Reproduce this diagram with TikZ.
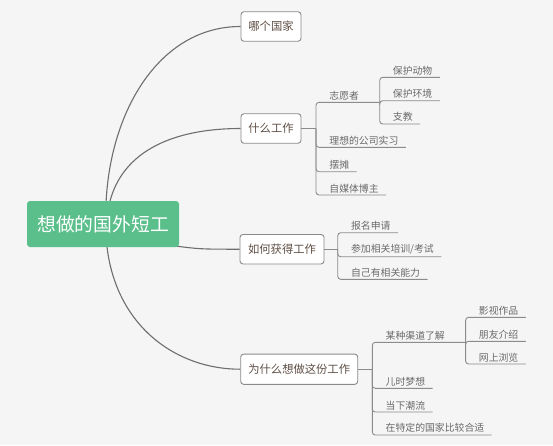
\documentclass[tikz,border=0pt]{standalone}
\usepackage{fontspec}
\setmainfont{Noto Sans CJK SC}
\usetikzlibrary{backgrounds}
\definecolor{bgc}{HTML}{F5F5F5}
\definecolor{rootc}{HTML}{5BBF8B}
\definecolor{mainc}{HTML}{5E4E44}
\definecolor{leafc}{HTML}{6A6A6A}
\definecolor{linec}{HTML}{6E6E6E}
\definecolor{subc}{HTML}{8C8C8C}
\definecolor{boxc}{HTML}{8A8A8A}
\tikzset{
  rootbox/.style={fill=rootc, rounded corners=3pt, text=white, font=\fontsize{18.8}{20}\selectfont, minimum width=152pt, minimum height=46pt, inner sep=0pt},
  mainbox/.style={draw=boxc, fill=white, line width=0.9pt, rounded corners=3pt, text=mainc, font=\fontsize{11.3}{13}\selectfont, minimum height=29.5pt, inner sep=0pt},
  leaf/.style={anchor=south west, inner xsep=0pt, inner ysep=2pt, text=leafc, font=\fontsize{9.85}{11}\selectfont},
  curve/.style={draw=linec, line width=1.1pt},
  sub/.style={draw=subc, line width=0.9pt, rounded corners=3pt}
}
\newcommand{\lf}[1]{\hspace*{13.2pt}#1\hspace*{7.3pt}}
\newcommand{\lp}[1]{\hspace*{13.2pt}#1\hspace*{20.6pt}}
\begin{document}
\begin{tikzpicture}[x=1pt,y=-1pt]
\useasboundingbox (0,0) rectangle (553,445);

\node[rootbox] (root) at (103,224) {想做的国外短工};

% main nodes
\node[mainbox, minimum width=60pt] (b1) at (271,26.5) {哪个国家};
\node[mainbox, minimum width=60pt] (b2) at (271,128.5) {什么工作};
\node[mainbox, minimum width=84pt] (b3) at (282,249.2) {如何获得工作};
\node[mainbox, minimum width=117pt, minimum height=30.3pt] (b4) at (299.2,369.2) {为什么想做这份工作};

\begin{scope}[on background layer]
\fill[bgc] (0,0) rectangle (553,445);
\draw[curve] ([xshift=3pt,yshift=-3pt]root.north) .. controls (110,110) and (160,26.5) .. (b1.west);
\draw[curve] ([xshift=6.3pt,yshift=-3pt]root.north) .. controls (122,150) and (175,128.5) .. (b2.west);
\draw[curve] ([xshift=-10pt,yshift=2pt]root.south east) .. controls (200,249.2) .. (b3.west);
\draw[curve] ([xshift=3.7pt,yshift=3pt]root.south) .. controls (115,325) and (175,369.2) .. (b4.west);
\end{scope}

% 什么工作 children
\node[leaf] (zy) at (316,102.3) {\lp{志愿者}};
\node[leaf] (sx) at (316,147.3) {\lf{理想的公司实习}};
\node[leaf] (bt) at (316,171.7) {\lf{摆摊}};
\node[leaf] (zm) at (316,195) {\lf{自媒体博主}};
\draw[sub] (b2.east) -- (316,128.5) coordinate (k2);
\foreach \c in {zy,sx,bt,zm} \draw[sub] (k2) |- (\c.south east);

% 志愿者 children
\node[leaf] (d1) at (379.5,77.3) {\lf{保护动物}};
\node[leaf] (d2) at (379.5,100.7) {\lf{保护环境}};
\node[leaf] (d3) at (379.5,124) {\lf{支教}};
\foreach \c in {d1,d2,d3} \draw[sub] (zy.south east) |- (\c.south east);

% 如何获得工作 children
\node[leaf] (r1) at (337.7,232.7) {\lf{报名申请}};
\node[leaf] (r2) at (337.7,256.7) {\lf{参加相关培训/考试}};
\node[leaf] (r3) at (337.7,279.3) {\lf{自己有相关能力}};
\draw[sub] (b3.east) -- (337.7,249.2) coordinate (k3);
\foreach \c in {r1,r2,r3} \draw[sub] (k3) |- (\c.south east);

% 为什么想做这份工作 children
\node[leaf] (w1) at (372.3,342.3) {\lp{某种渠道了解}};
\node[leaf] (w2) at (372.3,388.3) {\lf{儿时梦想}};
\node[leaf] (w3) at (372.3,412) {\lf{当下潮流}};
\node[leaf] (w4) at (372.3,435) {\lf{在特定的国家比较合适}};
\draw[sub] (b4.east) -- (372.3,369.2) coordinate (k4);
\foreach \c in {w1,w2,w3,w4} \draw[sub] (k4) |- (\c.south east);

% 某种渠道了解 children
\node[leaf] (m1) at (465.5,317.3) {\lf{影视作品}};
\node[leaf] (m2) at (465.5,341.3) {\lf{朋友介绍}};
\node[leaf] (m3) at (465.5,364) {\lf{网上浏览}};
\foreach \c in {m1,m2,m3} \draw[sub] (w1.south east) |- (\c.south east);
\end{tikzpicture}
\end{document}
